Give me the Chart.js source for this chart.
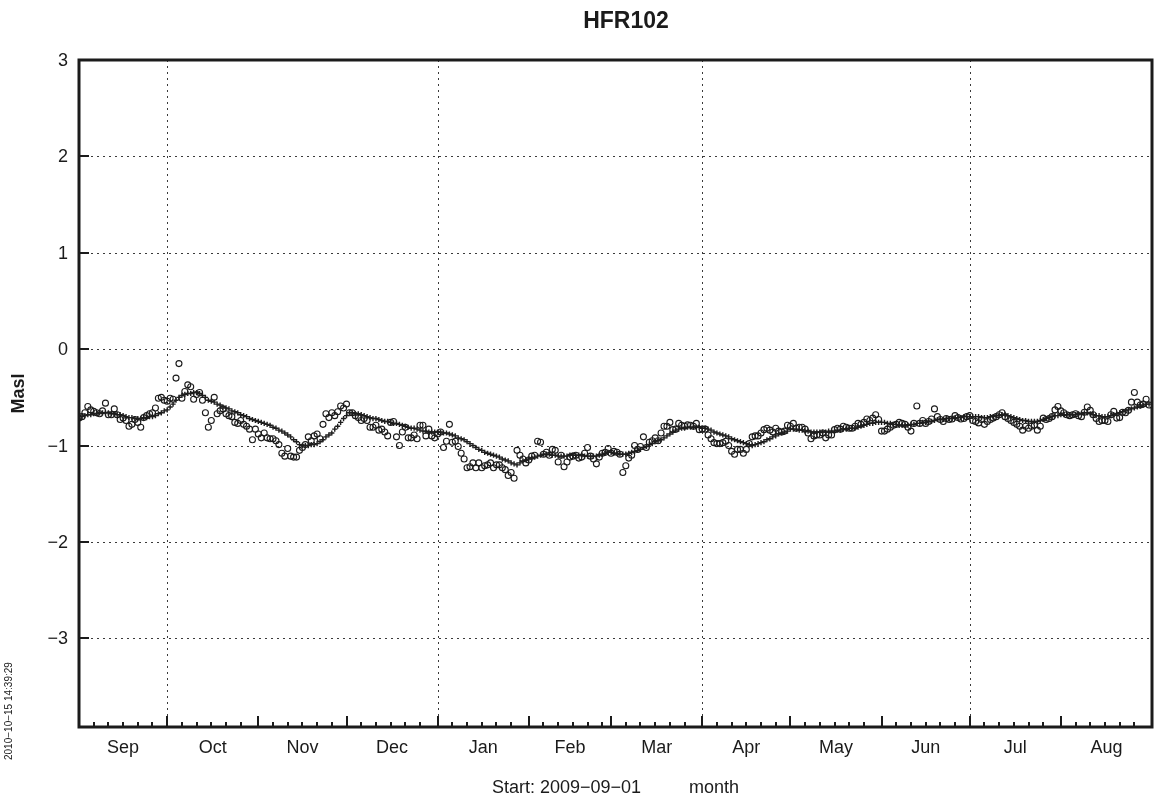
<!DOCTYPE html>
<html>
<head>
<meta charset="utf-8">
<title>HFR102</title>
<script src="https://cdn.jsdelivr.net/npm/chart.js@4.4.1/dist/chart.umd.min.js"></script>
<style>
  html, body { margin: 0; padding: 0; background: #ffffff; }
  #wrap { width: 1160px; height: 800px; position: relative; }
</style>
</head>
<body>
<div id="wrap"><canvas id="chart" width="1160" height="800"></canvas></div>
<script>
// Station and period
const stationName = 'HFR102';
const startDate = '2009-09-01';
const stampText = '2010\u221210\u221215 14:39:29';
const yAxisTitle = 'Masl';
const monthLabels = ['Sep','Oct','Nov','Dec','Jan','Feb','Mar','Apr','May','Jun','Jul','Aug'];
const yTicks = [3, 2, 1, 0, -1, -2, -3];
const yRange = [-3.92, 3];

// Daily observed level (circles), one value per day from the start date
const levelObs = [
  -0.715,-0.70,-0.66,-0.595,-0.63,-0.645,-0.66,-0.67,-0.64,-0.56,
  -0.68,-0.68,-0.62,-0.68,-0.73,-0.715,-0.74,-0.80,-0.78,-0.73,
  -0.76,-0.81,-0.71,-0.69,-0.67,-0.66,-0.61,-0.51,-0.50,-0.53,
  -0.54,-0.51,-0.52,-0.30,-0.15,-0.51,-0.44,-0.37,-0.39,-0.52,
  -0.47,-0.45,-0.53,-0.66,-0.81,-0.74,-0.50,-0.67,-0.64,-0.62,
  -0.67,-0.69,-0.70,-0.76,-0.77,-0.74,-0.78,-0.80,-0.83,-0.94,
  -0.83,-0.88,-0.92,-0.87,-0.92,-0.93,-0.93,-0.95,-0.99,-1.08,
  -1.11,-1.03,-1.11,-1.12,-1.12,-1.05,-1.02,-0.99,-0.91,-0.95,
  -0.90,-0.88,-0.93,-0.78,-0.67,-0.71,-0.66,-0.69,-0.65,-0.59,
  -0.61,-0.57,-0.66,-0.66,-0.69,-0.71,-0.74,-0.72,-0.74,-0.81,
  -0.81,-0.79,-0.84,-0.83,-0.86,-0.90,-0.76,-0.75,-0.91,-1.00,
  -0.86,-0.81,-0.92,-0.92,-0.89,-0.93,-0.79,-0.79,-0.90,-0.83,
  -0.90,-0.92,-0.88,-0.86,-1.02,-0.955,-0.78,-0.965,-0.955,-1.01,
  -1.08,-1.14,-1.23,-1.22,-1.18,-1.23,-1.18,-1.23,-1.21,-1.20,
  -1.18,-1.23,-1.20,-1.20,-1.23,-1.25,-1.31,-1.28,-1.34,-1.05,
  -1.10,-1.14,-1.18,-1.15,-1.11,-1.10,-0.955,-0.965,-1.09,-1.07,
  -1.10,-1.04,-1.05,-1.17,-1.10,-1.22,-1.17,-1.12,-1.11,-1.10,
  -1.13,-1.12,-1.08,-1.02,-1.11,-1.14,-1.19,-1.12,-1.08,-1.07,
  -1.03,-1.08,-1.06,-1.07,-1.09,-1.28,-1.21,-1.13,-1.10,-1.00,
  -1.04,-1.01,-0.91,-1.02,-0.965,-0.95,-0.92,-0.95,-0.87,-0.80,
  -0.80,-0.76,-0.835,-0.83,-0.77,-0.79,-0.80,-0.785,-0.79,-0.80,
  -0.77,-0.835,-0.83,-0.83,-0.89,-0.93,-0.97,-0.98,-0.98,-0.97,
  -0.955,-1.00,-1.06,-1.09,-1.04,-1.04,-1.08,-1.04,-0.98,-0.91,
  -0.90,-0.90,-0.87,-0.835,-0.82,-0.84,-0.86,-0.82,-0.85,-0.86,
  -0.85,-0.79,-0.80,-0.77,-0.82,-0.81,-0.81,-0.83,-0.87,-0.93,
  -0.90,-0.89,-0.89,-0.87,-0.92,-0.89,-0.89,-0.835,-0.82,-0.83,
  -0.80,-0.81,-0.82,-0.82,-0.80,-0.77,-0.78,-0.76,-0.725,-0.74,
  -0.715,-0.68,-0.73,-0.85,-0.85,-0.83,-0.81,-0.79,-0.78,-0.76,
  -0.77,-0.78,-0.81,-0.85,-0.77,-0.59,-0.77,-0.74,-0.77,-0.75,
  -0.725,-0.62,-0.70,-0.73,-0.75,-0.72,-0.73,-0.725,-0.69,-0.71,
  -0.725,-0.72,-0.70,-0.69,-0.74,-0.75,-0.765,-0.73,-0.78,-0.75,
  -0.73,-0.715,-0.70,-0.68,-0.66,-0.70,-0.72,-0.74,-0.76,-0.78,
  -0.80,-0.84,-0.80,-0.82,-0.80,-0.79,-0.84,-0.80,-0.715,-0.73,
  -0.72,-0.70,-0.63,-0.595,-0.64,-0.66,-0.68,-0.69,-0.68,-0.67,
  -0.69,-0.70,-0.655,-0.60,-0.635,-0.68,-0.72,-0.75,-0.74,-0.74,
  -0.75,-0.68,-0.645,-0.715,-0.71,-0.655,-0.66,-0.635,-0.55,-0.45,
  -0.55,-0.58,-0.57,-0.52,-0.58
];

// Daily smoothed level (crosses)
const levelSmooth = [
  -0.715,-0.70,-0.69,-0.68,-0.68,-0.67,-0.67,-0.66,-0.66,-0.66,
  -0.66,-0.67,-0.67,-0.68,-0.68,-0.69,-0.70,-0.71,-0.71,-0.72,
  -0.72,-0.72,-0.71,-0.71,-0.70,-0.70,-0.69,-0.67,-0.66,-0.64,
  -0.63,-0.60,-0.57,-0.53,-0.50,-0.48,-0.47,-0.46,-0.46,-0.45,
  -0.45,-0.46,-0.48,-0.50,-0.53,-0.54,-0.55,-0.57,-0.58,-0.60,
  -0.61,-0.62,-0.64,-0.65,-0.66,-0.68,-0.69,-0.70,-0.72,-0.73,
  -0.74,-0.75,-0.76,-0.77,-0.78,-0.79,-0.81,-0.82,-0.84,-0.85,
  -0.87,-0.89,-0.91,-0.94,-0.96,-0.99,-1.00,-1.00,-1.00,-0.99,
  -0.99,-0.98,-0.96,-0.94,-0.91,-0.89,-0.87,-0.83,-0.80,-0.76,
  -0.72,-0.69,-0.66,-0.66,-0.67,-0.67,-0.68,-0.69,-0.70,-0.71,
  -0.72,-0.72,-0.73,-0.74,-0.75,-0.75,-0.76,-0.77,-0.77,-0.78,
  -0.79,-0.80,-0.81,-0.82,-0.82,-0.83,-0.84,-0.85,-0.85,-0.86,
  -0.86,-0.86,-0.86,-0.86,-0.87,-0.87,-0.88,-0.89,-0.90,-0.92,
  -0.93,-0.94,-0.96,-0.98,-1.00,-1.02,-1.04,-1.05,-1.07,-1.08,
  -1.09,-1.10,-1.11,-1.12,-1.14,-1.15,-1.16,-1.18,-1.19,-1.20,
  -1.18,-1.16,-1.15,-1.14,-1.13,-1.12,-1.11,-1.10,-1.09,-1.09,
  -1.09,-1.10,-1.10,-1.11,-1.11,-1.11,-1.11,-1.10,-1.10,-1.10,
  -1.10,-1.10,-1.11,-1.11,-1.11,-1.11,-1.11,-1.10,-1.09,-1.08,
  -1.07,-1.07,-1.08,-1.08,-1.09,-1.09,-1.09,-1.08,-1.07,-1.06,
  -1.05,-1.04,-1.02,-1.01,-0.99,-0.98,-0.96,-0.95,-0.94,-0.92,
  -0.90,-0.88,-0.86,-0.84,-0.83,-0.82,-0.82,-0.81,-0.81,-0.81,
  -0.81,-0.81,-0.82,-0.82,-0.83,-0.84,-0.86,-0.87,-0.88,-0.89,
  -0.90,-0.91,-0.93,-0.94,-0.95,-0.96,-0.97,-0.98,-0.99,-1.00,
  -0.99,-0.98,-0.97,-0.96,-0.94,-0.93,-0.91,-0.90,-0.88,-0.87,
  -0.86,-0.85,-0.83,-0.83,-0.83,-0.84,-0.84,-0.85,-0.85,-0.86,
  -0.86,-0.86,-0.86,-0.86,-0.86,-0.85,-0.85,-0.85,-0.84,-0.84,
  -0.83,-0.83,-0.82,-0.82,-0.82,-0.81,-0.80,-0.79,-0.78,-0.77,
  -0.77,-0.76,-0.76,-0.76,-0.76,-0.77,-0.77,-0.78,-0.78,-0.79,
  -0.79,-0.79,-0.79,-0.78,-0.78,-0.77,-0.77,-0.76,-0.76,-0.75,
  -0.75,-0.74,-0.73,-0.73,-0.73,-0.72,-0.72,-0.72,-0.71,-0.71,
  -0.71,-0.70,-0.70,-0.70,-0.70,-0.70,-0.70,-0.71,-0.71,-0.71,
  -0.70,-0.70,-0.69,-0.69,-0.68,-0.68,-0.69,-0.70,-0.71,-0.72,
  -0.73,-0.74,-0.74,-0.75,-0.75,-0.75,-0.75,-0.74,-0.73,-0.72,
  -0.71,-0.70,-0.69,-0.69,-0.68,-0.68,-0.68,-0.68,-0.68,-0.68,
  -0.67,-0.67,-0.66,-0.66,-0.67,-0.68,-0.69,-0.69,-0.70,-0.70,
  -0.70,-0.69,-0.68,-0.67,-0.66,-0.65,-0.64,-0.63,-0.62,-0.61,
  -0.60,-0.59,-0.58,-0.57,-0.57
];

// ---- calendar helpers: day offsets from the start date ----
const DAY = 86400000;
const t0 = Date.parse(startDate + 'T00:00:00Z');
function dayOffset(y, m, d) { return (Date.UTC(y, m, d) - t0) / DAY; }
const y0 = new Date(t0).getUTCFullYear();
const m0 = new Date(t0).getUTCMonth();
const monthStarts = [];
for (let k = 0; k <= monthLabels.length; k++) {
  monthStarts.push(dayOffset(y0, m0 + k, 1));
}
const totalDays = monthStarts[monthStarts.length - 1];
const tickDays = []; // days 1, 6, 11, 16, 21, 26 of every month
for (let k = 0; k < monthLabels.length; k++) {
  [1, 6, 11, 16, 21, 26].forEach(dd => tickDays.push({ x: dayOffset(y0, m0 + k, dd), major: dd === 1 }));
}
tickDays.push({ x: totalDays, major: true });

const obsPoints = levelObs.map((v, i) => ({ x: i, y: v }));
const smoothPoints = levelSmooth.map((v, i) => ({ x: i, y: v }));

const INK = '#1b1b1b';
const FONT = '"Liberation Sans", Arial, Helvetica, sans-serif';

// dotted grid under the data
const gridPlugin = {
  id: 'dottedGrid',
  beforeDatasetsDraw(chart) {
    const { ctx, chartArea: a, scales: { x, y } } = chart;
    ctx.save();
    ctx.strokeStyle = '#3a3a3a';
    ctx.lineWidth = 1;
    ctx.setLineDash([2, 4]);
    yTicks.forEach(v => {
      const py = Math.round(y.getPixelForValue(v)) + 0.5;
      if (py <= a.top + 2 || py >= a.bottom - 2) return;
      ctx.beginPath(); ctx.moveTo(a.left, py); ctx.lineTo(a.right, py); ctx.stroke();
    });
    // quarter boundaries
    [1, 4, 7, 10].forEach(k => {
      const px = Math.round(x.getPixelForValue(monthStarts[k])) + 0.5;
      ctx.beginPath(); ctx.moveTo(px, a.top); ctx.lineTo(px, a.bottom); ctx.stroke();
    });
    ctx.restore();
  }
};

// frame, tick marks and all text
const framePlugin = {
  id: 'frameAndText',
  afterDraw(chart) {
    const { ctx, chartArea: a, scales: { x, y } } = chart;
    ctx.save();
    ctx.setLineDash([]);
    ctx.strokeStyle = INK;
    ctx.lineWidth = 3;
    ctx.strokeRect(a.left, a.top, a.right - a.left, a.bottom - a.top);

    // bottom ticks pointing inwards
    ctx.lineWidth = 2;
    tickDays.forEach(t => {
      const px = Math.round(x.getPixelForValue(t.x));
      const len = t.major ? 11 : 5;
      ctx.beginPath(); ctx.moveTo(px, a.bottom); ctx.lineTo(px, a.bottom - len); ctx.stroke();
    });
    // left ticks pointing inwards
    yTicks.forEach(v => {
      const py = Math.round(y.getPixelForValue(v));
      ctx.beginPath(); ctx.moveTo(a.left, py); ctx.lineTo(a.left + 10, py); ctx.stroke();
    });

    ctx.fillStyle = INK;
    // y tick labels
    ctx.font = '18px ' + FONT;
    ctx.textAlign = 'right';
    ctx.textBaseline = 'middle';
    yTicks.forEach(v => {
      const txt = v < 0 ? '\u2212' + Math.abs(v) : String(v);
      ctx.fillText(txt, a.left - 11, y.getPixelForValue(v) + 1);
    });
    // month labels centred in each month
    ctx.textAlign = 'center';
    ctx.textBaseline = 'alphabetic';
    monthLabels.forEach((m, k) => {
      const cx = x.getPixelForValue((monthStarts[k] + monthStarts[k + 1]) / 2);
      ctx.fillText(m, cx, 753);
    });
    // start line
    const startTxt = 'Start: ' + startDate.replace(/-/g, '\u2212');
    ctx.textAlign = 'left';
    ctx.fillText(startTxt, 492, 793);
    ctx.fillText('month', 689, 793);

    // title
    ctx.font = 'bold 23px ' + FONT;
    ctx.textAlign = 'center';
    ctx.fillText(stationName, 626, 28);

    // y axis title
    ctx.save();
    ctx.translate(24, (a.top + a.bottom) / 2);
    ctx.rotate(-Math.PI / 2);
    ctx.font = 'bold 18px ' + FONT;
    ctx.textAlign = 'center';
    ctx.fillText(yAxisTitle, 0, 0);
    ctx.restore();

    // time stamp
    ctx.save();
    ctx.translate(12, 760);
    ctx.rotate(-Math.PI / 2);
    ctx.font = '10px ' + FONT;
    ctx.textAlign = 'left';
    ctx.fillText(stampText, 0, 0);
    ctx.restore();

    ctx.restore();
  }
};

new Chart(document.getElementById('chart'), {
  type: 'scatter',
  data: {
    datasets: [
      {
        label: 'smoothed',
        data: smoothPoints,
        order: 0,
        pointStyle: 'cross',
        pointRadius: 2.6,
        pointBorderWidth: 1.4,
        borderColor: '#1e1e1e',
        backgroundColor: '#1e1e1e',
        showLine: false
      },
      {
        label: 'observed',
        data: obsPoints,
        order: 1,
        pointStyle: 'circle',
        pointRadius: 3,
        pointBorderWidth: 1.1,
        borderColor: '#1a1a1a',
        backgroundColor: 'rgba(255,255,255,0)',
        showLine: false
      }
    ]
  },
  options: {
    responsive: false,
    animation: false,
    devicePixelRatio: 1,
    layout: { padding: { left: 79, top: 60, right: 8, bottom: 73 } },
    scales: {
      x: { type: 'linear', min: 0, max: totalDays, display: false },
      y: { type: 'linear', min: yRange[0], max: yRange[1], display: false }
    },
    plugins: {
      legend: { display: false },
      tooltip: { enabled: false },
      title: { display: false }
    },
    events: []
  },
  plugins: [gridPlugin, framePlugin]
});
</script>
</body>
</html>
